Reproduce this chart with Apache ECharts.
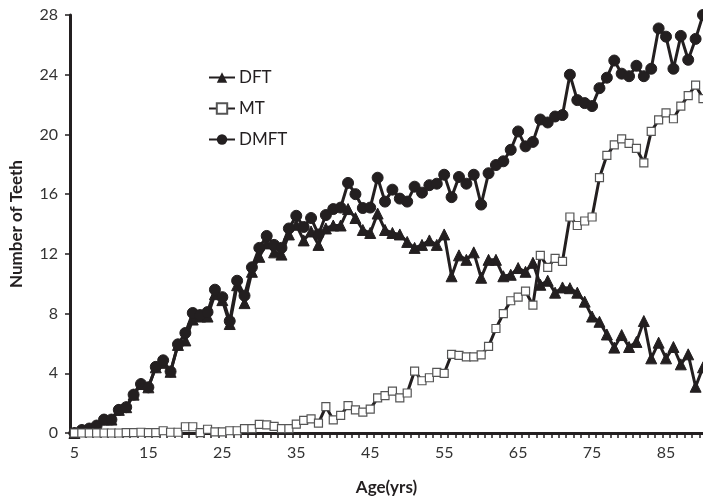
<!DOCTYPE html>
<html><head><meta charset="utf-8">
<script src="https://cdn.jsdelivr.net/npm/echarts@6/dist/echarts.min.js"></script>
<style>html,body{margin:0;padding:0;background:#fff}#c{width:703px;height:501px}</style>
</head><body><div id="c"></div>
<script>
var ages = [];
for (var a = 5; a <= 90; a++) ages.push(a);
var xTickLabels = [5, 15, 25, 35, 45, 55, 65, 75, 85];
var yTickLabels = [0, 4, 8, 12, 16, 20, 24, 28];
var dft = [0,0.2,0.3,0.5,0.9,0.9,1.55,1.73,2.57,3.28,3.06,4.4,4.7,4.1,5.9,6.2,7.6,7.8,7.8,9.3,8.9,7.3,9.9,8.7,10.8,11.8,12.7,12.1,11.95,13.3,13.95,12.9,13.5,12.6,13.7,13.9,13.9,15.0,14.4,13.6,13.4,14.7,13.6,13.4,13.3,12.8,12.4,12.6,12.9,12.6,13.3,10.5,11.9,11.6,12.1,10.4,11.6,11.6,10.5,10.6,11.05,10.8,11.4,9.93,10.2,9.4,9.75,9.7,9.4,8.8,7.8,7.45,6.6,5.72,6.56,5.76,6.1,7.5,5.0,6.05,5.0,5.76,4.6,5.27,3.1,4.4];
var mt = [0,0,0,0,0,0,0,0.03,0.03,0.05,0.03,0.03,0.15,0.05,0.05,0.42,0.42,0.03,0.25,0.07,0.07,0.15,0.15,0.29,0.29,0.58,0.55,0.44,0.29,0.29,0.6,0.84,0.95,0.66,1.77,0.88,1.18,1.84,1.55,1.4,1.6,2.35,2.5,2.8,2.35,2.68,4.15,3.5,3.7,4.06,4.0,5.27,5.2,5.1,5.1,5.23,5.8,7.0,8.0,8.86,9.1,9.5,8.56,11.9,11.1,11.7,11.5,14.47,13.9,14.2,14.47,17.1,18.6,19.3,19.7,19.4,19.06,18.1,20.2,20.97,21.45,21.05,21.9,22.6,23.3,22.4];
var dmft = [0,0.2,0.3,0.5,0.9,0.9,1.55,1.73,2.57,3.28,3.06,4.43,4.87,4.12,5.94,6.7,8.04,7.9,8.1,9.6,9.1,7.5,10.2,9.2,11.1,12.4,13.2,12.6,12.4,13.7,14.55,13.8,14.4,13.3,14.6,15.0,15.1,16.75,16.0,15.07,15.1,17.1,15.5,16.3,15.7,15.5,16.5,16.1,16.6,16.7,17.3,15.8,17.15,16.7,17.3,15.3,17.4,17.95,18.2,18.97,20.2,19.2,19.5,21.0,20.8,21.2,21.3,24.0,22.3,22.1,21.9,23.1,23.8,24.95,24.07,23.9,24.6,23.9,24.4,27.1,26.55,24.4,26.6,25.0,26.4,28.0];

function pairs(arr){ return ages.map(function(a,i){ return [a, arr[i]]; }); }
var tickPos = ages.map(function(a){ return a - 0.5; });
var FONT = 'Lato';
var INK = '#231f20';

var chart = echarts.init(document.getElementById('c'), null, {renderer:'canvas'});
chart.setOption({
  animation: false,
  backgroundColor: '#fff',
  textStyle: {fontFamily: FONT},
  grid: {left: 67, top: 15, right: 0, bottom: 65, containLabel: false},
  legend: {
    orient: 'vertical', left: 203, top: 64, itemWidth: 26, itemHeight: 13, itemGap: 14,
    textStyle: {fontFamily: FONT, fontSize: 17, color: INK, padding: [0,0,0,-1]},
    data: ['DFT', 'MT', 'DMFT']
  },
  xAxis: {
    type: 'value', min: 4.4, max: 90,
    name: 'Age(yrs)', nameLocation: 'middle', nameGap: 46,
    nameTextStyle: {fontFamily: FONT, fontSize: 17, fontWeight: 'bold', color: INK},
    axisLine: {show: true, onZero: false, lineStyle: {color: INK, width: 3}},
    axisTick: {show: true, customValues: tickPos, length: 5, lineStyle: {color: INK, width: 1.5}},
    axisLabel: {customValues: xTickLabels, fontFamily: FONT, fontSize: 16, color: '#333', margin: 12},
    splitLine: {show: false}
  },
  yAxis: {
    type: 'value', min: 0, max: 28, interval: 4,
    name: 'Number of Teeth', nameLocation: 'middle', nameGap: 45, nameRotate: 90,
    nameTextStyle: {fontFamily: FONT, fontSize: 17, fontWeight: 'bold', color: INK},
    axisLine: {show: true, lineStyle: {color: INK, width: 3}},
    axisTick: {show: true, length: 5, lineStyle: {color: INK, width: 1.5}},
    axisLabel: {fontFamily: FONT, fontSize: 16, color: '#333', margin: 12},
    splitLine: {show: false}
  },
  series: [
    {name: 'DFT', type: 'line', data: pairs(dft), symbol: 'triangle', symbolSize: 11, z: 3,
     lineStyle: {color: INK, width: 3}, itemStyle: {color: INK, borderColor: INK}},
    {name: 'MT', type: 'line', data: pairs(mt), symbol: 'rect', symbolSize: 8, z: 5,
     lineStyle: {color: INK, width: 3}, itemStyle: {color: '#fff', borderColor: '#555', borderWidth: 1.2}},
    {name: 'DMFT', type: 'line', data: pairs(dmft), symbol: 'circle', symbolSize: 11, z: 4,
     lineStyle: {color: INK, width: 3}, itemStyle: {color: INK, borderColor: INK}}
  ]
});
</script>
</body></html>
